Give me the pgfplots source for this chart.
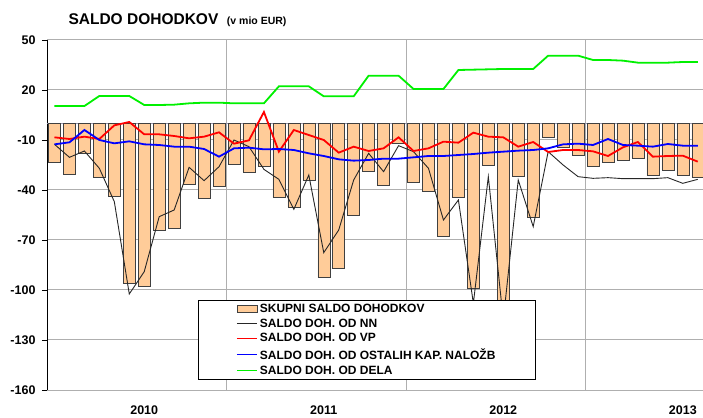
\documentclass[border=0pt]{standalone}
\usepackage{pgfplots}
\pgfplotsset{compat=1.18}
\usepackage{pgfplotstable}
\usepackage{fontspec}
\setmainfont{Liberation Sans}

\definecolor{barfill}{RGB}{255,204,153}
\definecolor{gridgray}{RGB}{175,175,175}
\definecolor{lime}{RGB}{0,240,0}
\definecolor{zeroline}{RGB}{150,150,175}

% monthly values, Jan 2010 (i=0) to Aug 2013 (i=43)
\pgfplotstableread{
i  skupni  nn     vp     ostali  dela
0  -23.4  -12.6   -8.4  -12.6  10.4
1  -30.8  -20.4   -9.4  -11.4  10.4
2  -18.0  -16.6   -8.0   -4.0  10.4
3  -32.2  -27.0   -9.4  -10.0  16.4
4  -43.8  -47.0   -1.2  -12.0  16.4
5  -95.8 -102.4    0.8  -10.8  16.4
6  -97.6  -89.0   -6.6  -12.6  11.0
7  -64.2  -56.0   -6.6  -13.0  11.0
8  -63.0  -52.0   -7.6  -14.0  11.2
9  -36.4  -26.4   -9.0  -14.0  12.0
10 -45.0  -34.4   -8.0  -15.4  12.4
11 -38.0  -26.0   -5.4  -20.0  12.4
12 -24.4  -10.0  -12.2  -15.0  12.0
13 -29.2  -14.0  -10.2  -14.6  12.0
14 -25.6  -27.6    6.8  -15.6  12.0
15 -44.4  -33.6  -17.0  -15.4  22.2
16 -50.2  -51.6   -4.0  -16.0  22.2
17 -34.4  -31.0   -7.0  -18.0  22.2
18 -92.6  -77.6  -10.0  -19.6  16.2
19 -87.0  -64.0  -17.6  -21.6  16.2
20 -55.0  -34.0  -14.0  -22.4  16.2
21 -28.6  -18.0  -16.6  -22.0  28.6
22 -37.4  -29.0  -15.0  -21.2  28.6
23 -12.0  -13.4   -8.4  -21.2  28.6
24 -35.6  -17.0  -16.6  -20.4  20.6
25 -40.6  -27.0  -15.0  -19.6  20.6
26 -67.6  -58.0  -11.0  -19.6  20.6
27 -44.4  -46.0  -11.6  -19.0  32.0
28 -99.0 -108.0   -5.6  -18.4  32.2
29 -25.0  -32.0   -8.0  -17.6  32.4
30 -112.0 -118.0  -8.4  -17.0  32.6
31 -32.0  -34.0  -14.0  -16.4  32.6
32 -56.4  -62.0  -11.2  -16.0  32.6
33  -8.4  -17.0  -17.2  -15.0  40.6
34 -14.4  -25.0  -16.0  -12.6  40.6
35 -19.4  -32.0  -16.0  -12.2  40.6
36 -25.6  -33.0  -16.8  -13.0  38.0
37 -23.4  -32.6  -19.6   -9.4  38.0
38 -22.4  -33.2  -14.4  -13.0  37.6
39 -21.0  -33.2  -11.2  -13.4  36.4
40 -31.4  -33.2  -20.0  -14.0  36.4
41 -28.0  -32.6  -19.6  -12.4  36.4
42 -31.0  -36.0  -19.4  -13.4  36.8
43 -32.4  -33.6  -23.0  -13.4  36.8
}\data

\begin{document}
\begin{tikzpicture}
\begin{axis}[
  name=ax,
  scale only axis, width=656pt, height=350pt,
  xmin=-0.5, xmax=43.35, ymin=-160, ymax=50,
  axis x line*=bottom, axis y line*=left,
  x axis line style={draw=none},
  y axis line style={-, black, line width=0.8pt},
  ytick={-160,-130,...,50},
  ytick align=outside, major tick length=5pt,
  ytick style={black, line width=0.6pt},
  xtick={6,18,30,42}, xticklabels={2010,2011,2012,2013},
  xtick style={draw=none},
  extra x ticks={11.5,23.5,35.5}, extra x tick labels={},
  extra x tick style={xmajorgrids=true, xtick style={draw=none}},
  ymajorgrids,
  major grid style={gridgray, line width=1pt},
  tick label style={font=\bfseries\fontsize{12.5}{13}\selectfont},
  /pgf/number format/assume math mode=true,
  yticklabel style={xshift=-3pt},
  xticklabel style={yshift=-12pt},
  legend cell align=left,
  legend style={at={(0.23,0.257)}, anchor=north west, draw=black, fill=white,
    inner xsep=38pt, inner ysep=1.5pt, row sep=1pt,
    font=\bfseries\fontsize{12}{12}\selectfont},
  legend image code/.code={\draw[#1] (0pt,0pt) -- (20pt,0pt);},
]
\draw[zeroline, line width=1pt] (axis cs:-0.5,0) -- (axis cs:43.35,0);
\addplot[ybar, bar width=12pt, fill=barfill, draw=black!75, line width=0.5pt,
  legend image code/.code={\draw[##1] (0pt,-3.5pt) rectangle (20pt,3.5pt);}]
  table[x=i, y=skupni]{\data};
\addlegendentry{SKUPNI SALDO DOHODKOV}
\addplot[black!85, line width=0.9pt, no markers] table[x=i, y=nn]{\data};
\addlegendentry{SALDO DOH. OD NN}
\addplot[red, line width=1.8pt, no markers] table[x=i, y=vp]{\data};
\addlegendentry{SALDO DOH. OD VP}
\addplot[blue, line width=1.8pt, no markers] table[x=i, y=ostali]{\data};
\addlegendentry{SALDO DOH. OD OSTALIH KAP. NALOŽB}
\addplot[lime, line width=1.8pt, no markers] table[x=i, y=dela]{\data};
\addlegendentry{SALDO DOH. OD DELA}
\end{axis}
\node[anchor=base west, font=\bfseries\fontsize{15.5}{16}\selectfont]
  at ([xshift=18pt,yshift=15pt]ax.north west)
  {SALDO DOHODKOV\ \ {\fontsize{10.5}{11}\selectfont(v mio EUR)}};
\pgfresetboundingbox
\path[use as bounding box] ([xshift=-47pt,yshift=-27pt]ax.south west) rectangle ([yshift=40pt]ax.north east);
\end{tikzpicture}
\end{document}
